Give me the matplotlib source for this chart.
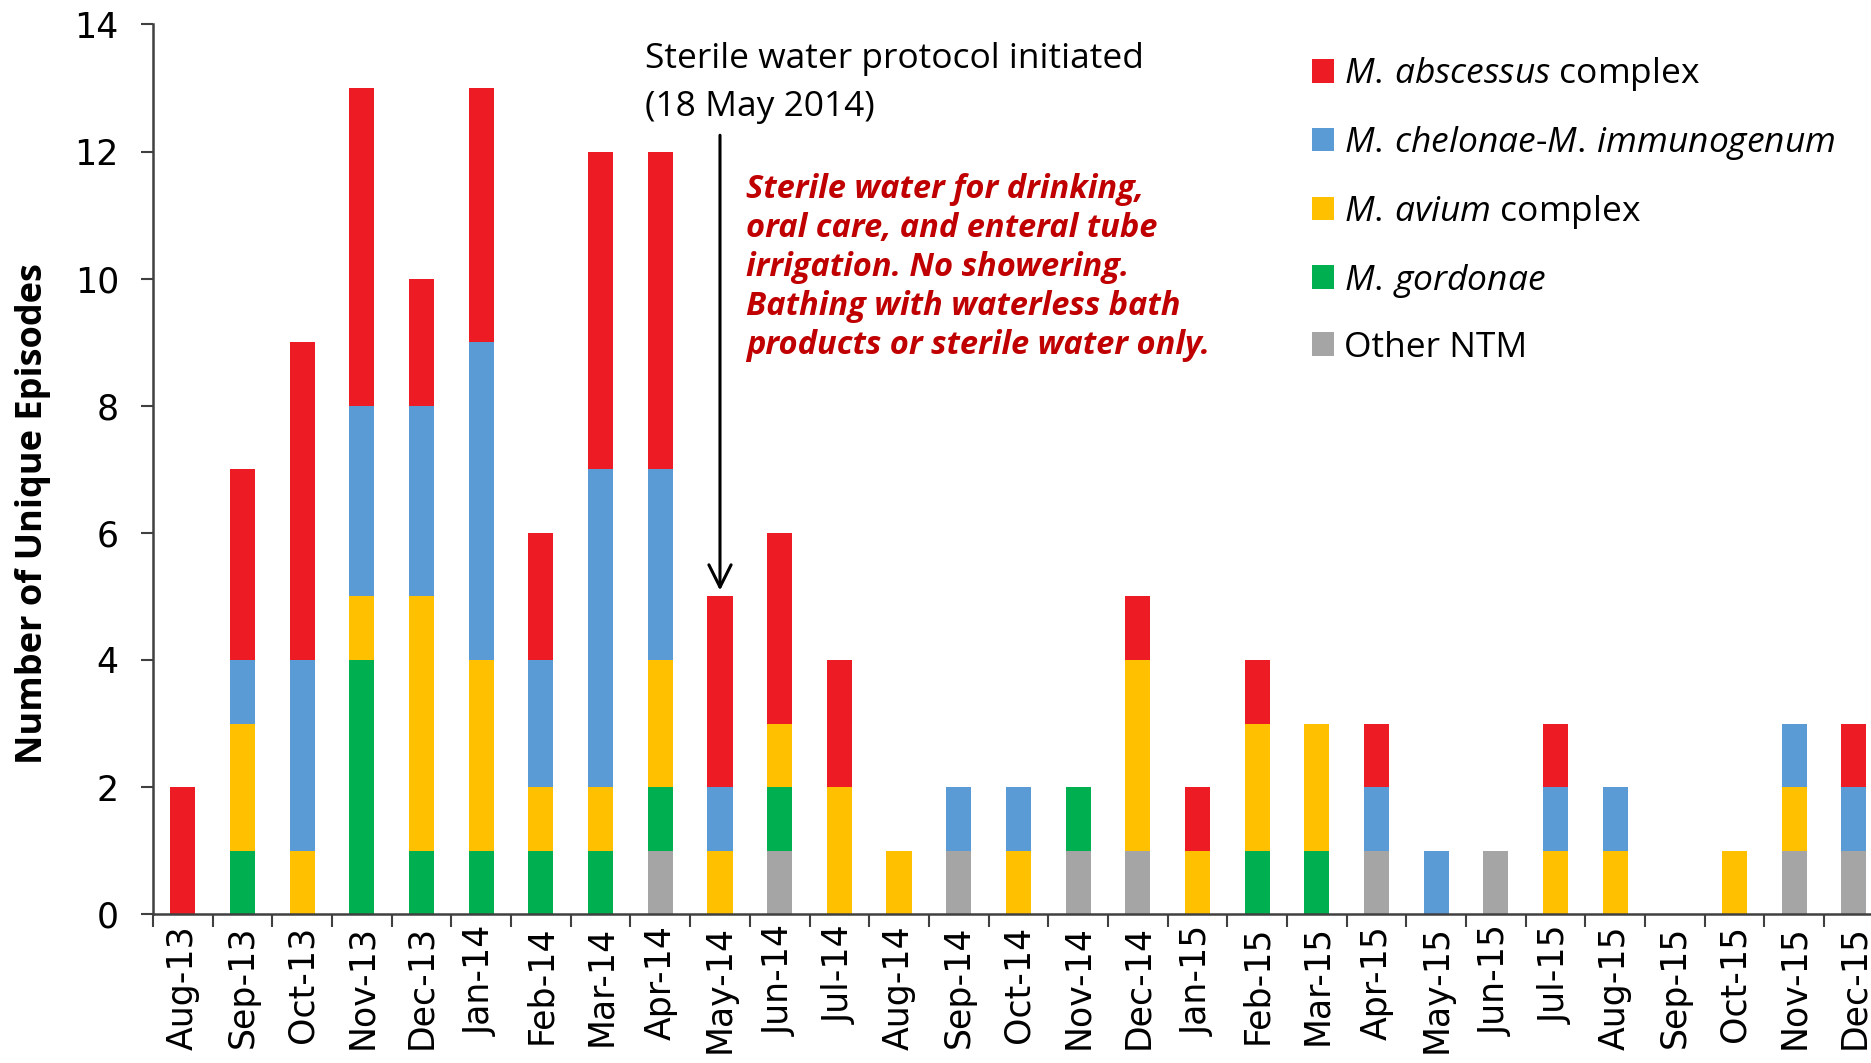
import numpy as np
import matplotlib
matplotlib.use('Agg')
import matplotlib.pyplot as plt
from matplotlib.patches import Patch

months = ['Aug-13', 'Sep-13', 'Oct-13', 'Nov-13', 'Dec-13', 'Jan-14', 'Feb-14', 'Mar-14',
          'Apr-14', 'May-14', 'Jun-14', 'Jul-14', 'Aug-14', 'Sep-14', 'Oct-14', 'Nov-14',
          'Dec-14', 'Jan-15', 'Feb-15', 'Mar-15', 'Apr-15', 'May-15', 'Jun-15', 'Jul-15',
          'Aug-15', 'Sep-15', 'Oct-15', 'Nov-15', 'Dec-15']

# stacked bottom -> top
other_ntm = [0, 0, 0, 0, 0, 0, 0, 0, 1, 0, 1, 0, 0, 1, 0, 1, 1, 0, 0, 0, 1, 0, 1, 0, 0, 0, 0, 1, 1]
gordonae  = [0, 1, 0, 4, 1, 1, 1, 1, 1, 0, 1, 0, 0, 0, 0, 1, 0, 0, 1, 1, 0, 0, 0, 0, 0, 0, 0, 0, 0]
avium     = [0, 2, 1, 1, 4, 3, 1, 1, 2, 1, 1, 2, 1, 0, 1, 0, 3, 1, 2, 2, 0, 0, 0, 1, 1, 0, 1, 1, 0]
chelonae  = [0, 1, 3, 3, 3, 5, 2, 5, 3, 1, 0, 0, 0, 1, 1, 0, 0, 0, 0, 0, 1, 1, 0, 1, 1, 0, 0, 1, 1]
abscessus = [2, 3, 5, 5, 2, 4, 2, 5, 5, 3, 3, 2, 0, 0, 0, 0, 1, 1, 1, 0, 1, 0, 0, 1, 0, 0, 0, 0, 1]

series = [
    ('Other NTM', other_ntm, '#A5A5A5'),
    ('M. gordonae', gordonae, '#00B050'),
    ('M. avium complex', avium, '#FFC000'),
    ('M. chelonae-M. immunogenum', chelonae, '#5B9BD5'),
    ('M. abscessus complex', abscessus, '#ED1C24'),
]
legend_labels = {
    'M. abscessus complex': r'$\it{M.\,abscessus}$ complex',
    'M. chelonae-M. immunogenum': r'$\it{M.\,chelonae\text{-}M.\,immunogenum}$',
    'M. avium complex': r'$\it{M.\,avium}$ complex',
    'M. gordonae': r'$\it{M.\,gordonae}$',
    'Other NTM': 'Other NTM',
}

txt_font = 'Open Sans'
plt.rcParams['mathtext.fontset'] = 'custom'
plt.rcParams['mathtext.it'] = txt_font + ':italic'
plt.rcParams['mathtext.rm'] = txt_font

fig = plt.figure(figsize=(18.71, 10.63), dpi=100)
ax = fig.add_axes([0.0818, 0.140, 0.925, 0.837])

x = np.arange(len(months))
bottom = np.zeros(len(months))
handles = {}
for name, vals, col in series:
    vals = np.array(vals)
    ax.bar(x, vals, width=0.42, bottom=bottom, color=col, edgecolor='none')
    handles[name] = Patch(facecolor=col)
    bottom += vals

ax.set_xlim(-0.5, len(months) - 0.5)
ax.set_ylim(0, 14)
ax.set_yticks(range(0, 15, 2))
ax.tick_params(axis='y', labelsize=25, length=8.6, width=1.5, color='#404040', pad=16)
ax.set_xticks(x)
ax.set_xticklabels(months, rotation=90, fontsize=25)
ax.set_xticks(np.arange(-0.5, len(months)), minor=True)
ax.tick_params(axis='x', which='major', length=0, pad=8)
ax.tick_params(axis='x', which='minor', length=9.4, width=1.5, color='#404040')
for s in ['top', 'right']:
    ax.spines[s].set_visible(False)
for s in ['left', 'bottom']:
    ax.spines[s].set_color('#404040')
    ax.spines[s].set_linewidth(1.8)

fig.text(0.0176, 0.517, 'Number of Unique Episodes', rotation=90, fontsize=26,
         fontweight='bold', family=txt_font, ha='center', va='center')

ax.text(7.74, 13.08, 'Sterile water protocol initiated\n(18 May 2014)', fontsize=25.5,
        family=txt_font, va='center', ha='left', linespacing=1.57)
ax.annotate('', xy=(9, 5.05), xytext=(9, 12.3),
            arrowprops=dict(arrowstyle='->', lw=2.2, color='black', mutation_scale=40))
ax.text(9.44, 10.17, 'Sterile water for drinking,\noral care, and enteral tube\nirrigation. No showering.\n'
        'Bathing with waterless bath\nproducts or sterile water only.', fontsize=23.5, color='#C00000',
        fontweight='bold', fontstyle='italic', family=txt_font, va='center', ha='left', linespacing=1.24)

order = ['M. abscessus complex', 'M. chelonae-M. immunogenum', 'M. avium complex', 'M. gordonae', 'Other NTM']
fig.legend([handles[n] for n in order], [legend_labels[n] for n in order],
           loc='upper left', bbox_to_anchor=(0.684, 0.978), frameon=False,
           handlelength=0.62, handleheight=0.65, handletextpad=0.3, labelspacing=0.87,
           prop={'family': txt_font, 'size': 25.5})

fig.savefig('out.png', dpi=100)
